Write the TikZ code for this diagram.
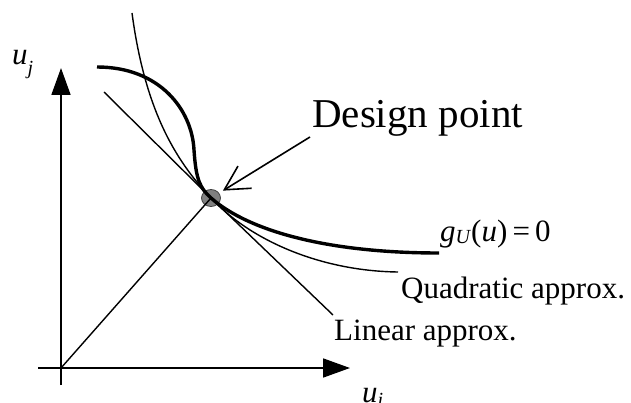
\documentclass[tikz,border=0pt]{standalone}
\usepackage{fontspec}
\setmainfont{Liberation Serif}
\usetikzlibrary{shapes.geometric, arrows.meta, positioning}

\newcommand{\lblfont}{\fontsize{31}{36}\selectfont}
\newcommand{\bigfont}{\fontsize{41}{48}\selectfont}
\newcommand{\lowsub}[2]{\raisebox{-#1}{\fontsize{20}{22}\selectfont\textit{#2}}}

\begin{document}
\begin{tikzpicture}[
    x=1pt, y=-1pt,
    axis/.style={line width=1.8pt, -{Triangle[length=27pt, width=19pt]}},
    thin curve/.style={line width=1.4pt},
    thick curve/.style={line width=3.4pt},
    lbl/.style={inner sep=0pt, anchor=base west},
    pointer/.style={line width=1.6pt, -{Straight Barb[length=24pt, width=26pt, line width=1.6pt]}}
]
    \useasboundingbox (0,0) rectangle (631,403);

    % axes
    \coordinate (origin) at (61,368);
    \coordinate (ybot) at (61,385);
    \coordinate (ytop) at (61,68);
    \coordinate (xleft) at (38,368);
    \coordinate (xright) at (350,368);
    \draw[line width=1.8pt] (ybot) -- (origin);
    \draw[axis] (origin) -- (ytop);
    \draw[line width=1.8pt] (xleft) -- (origin);
    \draw[axis] (origin) -- (xright);
    \node[lbl] (uj) at (12,65) {\lblfont\textit{u}\lowsub{10pt}{j}};
    \node[lbl] (ui) at (362,402) {\lblfont\textit{u}\lowsub{4pt}{i}};

    % design point
    \node[ellipse, draw=black!75, fill=black!50, line width=0.8pt, minimum width=19pt, minimum height=17pt, inner sep=0pt] (dp) at (211,198) {};

    % curve labels
    \node[lbl] (glbl) at (440,241) {\lblfont\textit{g}\lowsub{2pt}{U}(\textit{u})\,=\,0};
    \node[lbl] (qlbl) at (401,298) {\lblfont Quadratic approx.};
    \node[lbl] (llbl) at (334,340) {\lblfont Linear approx.};
    \node[lbl] (dlbl) at (312,128) {\bigfont Design point};

    % linear approximation and position vector
    \coordinate (lstart) at (104,92);
    \draw[thin curve] (lstart) -- (dp.center) -- (333,315);
    \draw[thin curve] (origin) -- (dp.center);

    % quadratic approximation
    \draw[thin curve] (132,13) .. controls (145,110) and (175,160) .. (dp.center)
        .. controls (250,240) and (320,271) .. (398,272);

    % limit state surface
    \draw[thick curve] (97,67) .. controls (160,67) and (192,110) .. (194,150)
        .. controls (196,180) and (200,188) .. (dp.center)
        .. controls (250,232) and (330,253) .. (439,253);

    % pointer to design point
    \coordinate (ptail) at (310,137);
    \draw[pointer, shorten >=14pt] (ptail) -- (dp.center);
\end{tikzpicture}
\end{document}
